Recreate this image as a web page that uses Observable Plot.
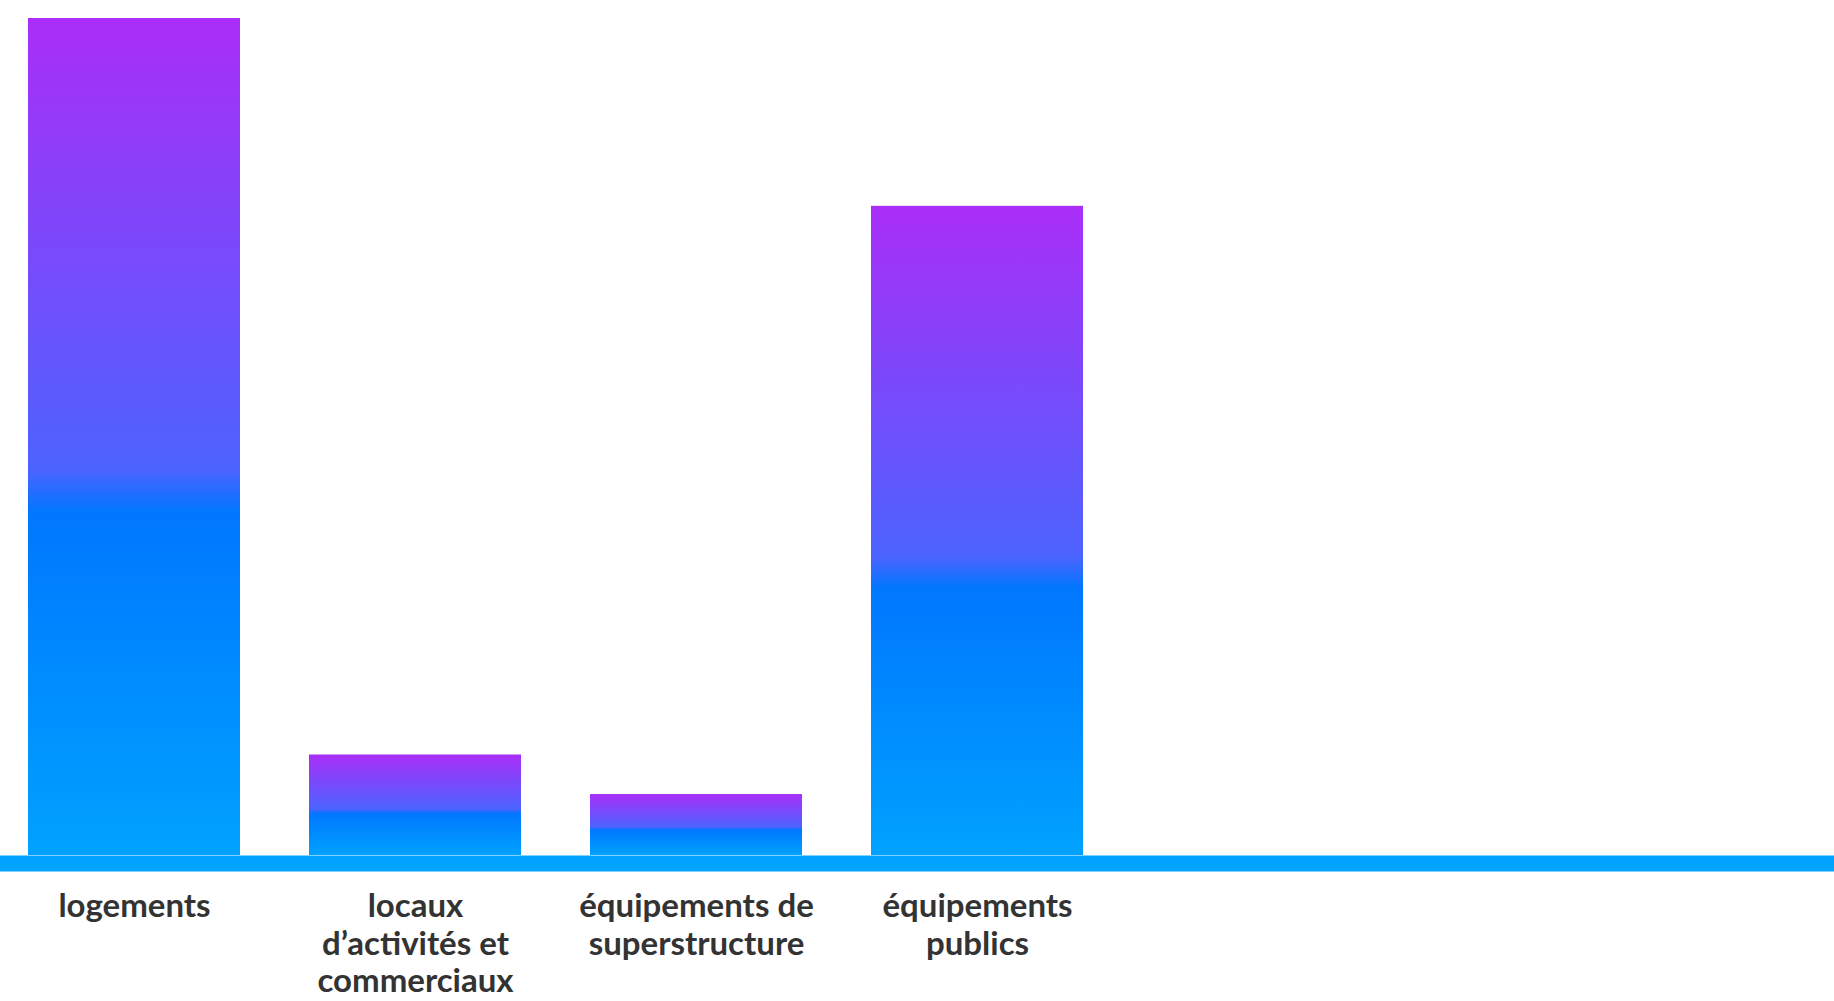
<!DOCTYPE html>
<html lang="fr">
<head>
<meta charset="utf-8">
<title>Répartition des surfaces</title>
<script src="https://cdn.jsdelivr.net/npm/d3@7"></script>
<script src="https://cdn.jsdelivr.net/npm/@observablehq/plot@0.6"></script>
<style>
  html, body { margin: 0; padding: 0; background: #ffffff; }
  #chart svg { display: block; }
</style>
</head>
<body>
<div id="chart"></div>
<script>
// Programme categories and their share of the total (%)
const categories = ["logements", "locaux", "superstructure", "publics"];
const labels = [
  "logements",
  "locaux\nd’activités et\ncommerciaux",
  "équipements de\nsuperstructure",
  "équipements\npublics"
];
const values = [50.8, 6.1, 3.7, 39.4];

const data = categories.map((c, i) => ({category: c, label: labels[i], value: values[i]}));
const labelOf = new Map(data.map(d => [d.category, d.label]));

const chart = Plot.plot({
  width: 1834,
  height: 1001,
  marginTop: 18,
  marginBottom: 146,
  marginLeft: 0,
  marginRight: 0,
  style: {background: "#ffffff", fontFamily: "Lato, sans-serif"},
  x: {
    type: "band",
    domain: categories,
    range: [28, 1084],
    paddingInner: 0.246,
    paddingOuter: 0,
    align: 0
  },
  y: {domain: [0, d3.max(values)], axis: null},
  marks: [
    Plot.barY(data, {x: "category", y: "value", fill: "url(#bar-gradient)"}),
    Plot.ruleY([0], {stroke: "#00a3ff", strokeWidth: 16, dy: 8}),
    Plot.axisX({
      tickSize: 0,
      tickPadding: 35,
      tickFormat: d => labelOf.get(d),
      fontSize: 33,
      fontWeight: "bold",
      lineHeight: 1.14,
      fill: "#333333",
      label: null
    })
  ]
});

// Vertical purple-to-blue gradient shared by every bar
const ns = "http://www.w3.org/2000/svg";
const defs = document.createElementNS(ns, "defs");
const grad = document.createElementNS(ns, "linearGradient");
grad.setAttribute("id", "bar-gradient");
grad.setAttribute("x1", "0");
grad.setAttribute("y1", "0");
grad.setAttribute("x2", "0");
grad.setAttribute("y2", "1");
[["0", "#aa2ef7"], ["0.54", "#4c63fe"], ["0.59", "#0077ff"], ["1", "#00a2ff"]].forEach(([o, c]) => {
  const s = document.createElementNS(ns, "stop");
  s.setAttribute("offset", o);
  s.setAttribute("stop-color", c);
  grad.appendChild(s);
});
defs.appendChild(grad);
chart.insertBefore(defs, chart.firstChild);

document.getElementById("chart").appendChild(chart);
</script>
</body>
</html>
